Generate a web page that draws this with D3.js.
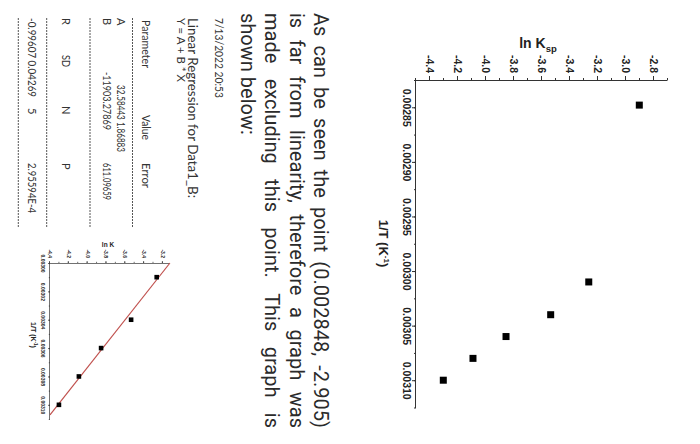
<!DOCTYPE html>
<html><head><meta charset="utf-8">
<script src="https://cdn.jsdelivr.net/npm/d3@7"></script>
<style>
body{margin:0;background:#fff}
svg{display:block}
.ax text{font-family:"Liberation Sans",Arial,sans-serif;font-weight:bold;fill:#222}
.ax path,.ax line{stroke:#333;stroke-width:1}
.para{font-family:Roboto,"Liberation Sans",sans-serif;font-size:20px;fill:#2b2b2b}
.tbl{font-family:Lato,"Liberation Sans",sans-serif;font-size:11px;fill:#333}
</style>
</head><body>
<svg id="c" width="700" height="444"></svg>
<script>
// ---------- data ----------
const invT  = [0.002848, 0.00301, 0.00304, 0.00306, 0.00308, 0.00310];
const lnKsp = [-2.905, -3.266, -3.538, -3.857, -4.093, -4.305];
const mainXTicks = [0.00285, 0.00290, 0.00295, 0.00300, 0.00305, 0.00310];
const mainYTicks = [-4.4, -4.2, -4.0, -3.8, -3.6, -3.4, -3.2, -3.0, -2.8];
const fitInvT = invT.slice(1);
const fitLnK  = lnKsp.slice(1);
const fitXTicks = [0.00300, 0.00302, 0.00304, 0.00306, 0.00308, 0.00310];
const fitYTicks = [-4.4, -4.2, -4.0, -3.8, -3.6, -3.4, -3.2];
const fitA = 32.58443, fitB = -11903.27869;
const paragraphLines = [
  "As can be seen the point (0.002848, -2.905)",
  "is far from linearity, therefore a graph was",
  "made excluding this point. This graph is",
  "shown below:"
];
const dateText = "7/13/2022 20:53";
const tableTitle = ["Linear Regression for Data1_B:", "Y = A + B * X"];
const tableHeader = ["Parameter", "Value", "Error"];
const rowA = ["A", "32.58443 1.86883"];
const rowB = ["B", "-11903.27869", "611.09659"];
const statHeader = ["R", "SD", "N", "P"];
const statValues = ["-0.99607 0.04269", "5", "2.95594E-4"];

// ---------- page (rotated 90deg clockwise) ----------
const svg = d3.select('#c');
svg.append('rect').attr('width',700).attr('height',444).attr('fill','#fff');
const page = svg.append('g').attr('transform','translate(700,0) rotate(90)');

// ---------- main chart ----------
const mx = d3.scaleLinear().domain([0.002825, 0.003125]).range([80, 407.5]);
const my = d3.scaleLinear().domain([-4.5, -2.7]).range([284, 32]);
const xMinorMain = d3.range(13).map(i => 0.002825 + i*0.000025);
const yMinorMain = d3.range(19).map(i => -4.5 + i*0.1);

const main = page.append('g');
main.append('g').attr('class','ax').attr('transform','translate(0,284)')
  .call(d3.axisBottom(mx).tickValues(xMinorMain).tickSize(2).tickFormat(''))
  .call(g=>g.select('.domain').remove());
main.append('g').attr('class','ax').attr('transform','translate(0,284)')
  .call(d3.axisBottom(mx).tickValues(mainXTicks).tickFormat(d=>d.toFixed(5)).tickSizeInner(4).tickSizeOuter(0).tickPadding(2))
  .selectAll('text').style('font-size','10.5px');
main.append('g').attr('class','ax').attr('transform','translate(80,0)')
  .call(d3.axisLeft(my).tickValues(yMinorMain).tickSize(2).tickFormat(''))
  .call(g=>g.select('.domain').remove());
main.append('g').attr('class','ax').attr('transform','translate(80,0)')
  .call(d3.axisLeft(my).tickValues(mainYTicks).tickFormat(d=>d.toFixed(1)).tickSizeInner(4).tickSizeOuter(0).tickPadding(3))
  .selectAll('text').style('font-size','10.5px');

// titles
const xt = main.append('text').attr('class','ax').attr('x',243.5).attr('y',321)
  .attr('text-anchor','middle')
  .style('font-family','"Liberation Sans",Arial,sans-serif').style('font-weight','bold').style('font-size','13px').style('fill','#222');
xt.append('tspan').text('1/T (K');
xt.append('tspan').attr('dy',-5).style('font-size','8px').text('-1');
xt.append('tspan').attr('dy',5).text(')');

const yt = main.append('text').attr('transform','translate(48.3,162) rotate(-90)')
  .attr('text-anchor','middle')
  .style('font-family','"Liberation Sans",Arial,sans-serif').style('font-weight','bold').style('font-size','14px').style('fill','#222');
yt.append('tspan').text('ln K');
yt.append('tspan').attr('dy',4).style('font-size','9.5px').text('sp');

main.selectAll('rect.pt').data(invT.map((x,i)=>({x, y:lnKsp[i]}))).join('rect')
  .attr('class','pt')
  .attr('x',d=>mx(d.x)-3.5).attr('y',d=>my(d.y)-3.5)
  .attr('width',7).attr('height',7).attr('fill','#000');

// ---------- paragraph ----------
const para = page.append('g');
function drawLine(words, u0, u1, v, justify){
  const nodes = words.map(w => para.append('text').attr('class','para').attr('y',v).text(w));
  const widths = nodes.map(n => n.node().getComputedTextLength());
  const total = d3.sum(widths);
  const gap = justify ? (u1-u0-total)/(words.length-1) : 5;
  let u = u0;
  nodes.forEach((n,i)=>{ n.attr('x',u); u += widths[i] + gap; });
}
paragraphLines.forEach((line,i)=>{
  drawLine(line.split(' '), 13, 428, 386 + i*24.5, i < paragraphLines.length-1);
});

// date
page.append('text').attr('class','tbl').attr('x',18).attr('y',485)
  .style('font-size','12px').attr('textLength',80).attr('lengthAdjust','spacingAndGlyphs').text(dateText);

// ---------- table ----------
const tbl = page.append('g');
function tok(text, u, v, uEnd, size){
  const t = tbl.append('text').attr('class','tbl').attr('x',u).attr('y',v).text(text);
  if(size) t.style('font-size',size+'px');
  if(uEnd) t.attr('textLength',uEnd-u).attr('lengthAdjust','spacingAndGlyphs');
  return t;
}
tok(tableTitle[0], 18, 512, 198, 12.5);
tok(tableTitle[1], 18, 523, 82, 11.5);
tok(tableHeader[0], 20, 558, 68);
tok(tableHeader[1], 115, 558, 140);
tok(tableHeader[2], 163, 558, 188);
tok(rowA[0], 18, 583);
tok(rowA[1], 85, 583, 152);
tok(rowB[0], 18, 597);
tok(rowB[1], 72, 597, 130);
tok(rowB[2], 163, 597, 200);
tok(statHeader[0], 18, 638);
tok(statHeader[1], 55, 638, 67);
tok(statHeader[2], 106, 638);
tok(statHeader[3], 163, 638);
tok(statValues[0], 18, 672, 97);
tok(statValues[1], 108, 672);
tok(statValues[2], 163, 672, 213);
[567.5, 610, 653.3, 681.7].forEach(v=>{
  tbl.append('line').attr('x1',18).attr('x2',228).attr('y1',v).attr('y2',v)
    .attr('stroke','#555').attr('stroke-width',1).attr('stroke-dasharray','2,1');
});

// ---------- small fit chart ----------
const sx = d3.scaleLinear().domain([0.00300, 0.00311]).range([263, 419]);
const sy = d3.scaleLinear().domain([-4.4, -3.13]).range([650, 530.5]);
const sm = page.append('g');
const xMinorS = d3.range(12).map(i => 0.00300 + i*0.00001);
const yMinorS = d3.range(13).map(i => -4.4 + i*0.1);
sm.append('g').attr('class','ax').attr('transform','translate(0,650)')
  .call(d3.axisBottom(sx).tickValues(xMinorS).tickSize(1.2).tickFormat(''))
  .call(g=>g.select('.domain').remove());
sm.append('g').attr('class','ax').attr('transform','translate(0,650)')
  .call(d3.axisBottom(sx).tickValues(fitXTicks).tickFormat(d=>d.toFixed(5)).tickSizeInner(2).tickSizeOuter(0).tickPadding(3))
  .selectAll('text').style('font-size','5px');
sm.append('g').attr('class','ax').attr('transform','translate(263,0)')
  .call(d3.axisLeft(sy).tickValues(yMinorS).tickSize(1.2).tickFormat(''))
  .call(g=>g.select('.domain').remove());
sm.append('g').attr('class','ax').attr('transform','translate(263,0)')
  .call(d3.axisLeft(sy).tickValues(fitYTicks).tickFormat(d=>d.toFixed(1)).tickSizeInner(2).tickSizeOuter(0).tickPadding(3))
  .selectAll('text').style('font-size','5px');
sm.selectAll('.ax path, .ax line').style('stroke-width',0.7);

const sxt = sm.append('text').attr('x',335).attr('y',669).attr('text-anchor','middle')
  .style('font-family','"Liberation Sans",Arial,sans-serif').style('font-weight','bold').style('font-size','7px').style('fill','#222');
sxt.append('tspan').text('1/T (K');
sxt.append('tspan').attr('dy',-2.5).style('font-size','4.5px').text('-1');
sxt.append('tspan').attr('dy',2.5).text(')');
sm.append('text').attr('transform','translate(247,592) rotate(-90)').attr('text-anchor','middle')
  .style('font-family','"Liberation Sans",Arial,sans-serif').style('font-weight','bold').style('font-size','6.5px').style('fill','#222')
  .text('ln K');

const xEnd = (-4.4 - fitA) / fitB;
const fitLine = [0.00300, xEnd].map(x => [sx(x), sy(fitA + fitB*x)]);
sm.append('path').attr('d', d3.line()(fitLine)).attr('stroke','#c0504d').attr('stroke-width',1.2).attr('fill','none');

sm.selectAll('rect.sp').data(fitInvT.map((x,i)=>({x, y:fitLnK[i]}))).join('rect')
  .attr('class','sp')
  .attr('x',d=>sx(d.x)-2.3).attr('y',d=>sy(d.y)-2.3)
  .attr('width',4.6).attr('height',4.6).attr('fill','#000');
</script>
</body></html>
